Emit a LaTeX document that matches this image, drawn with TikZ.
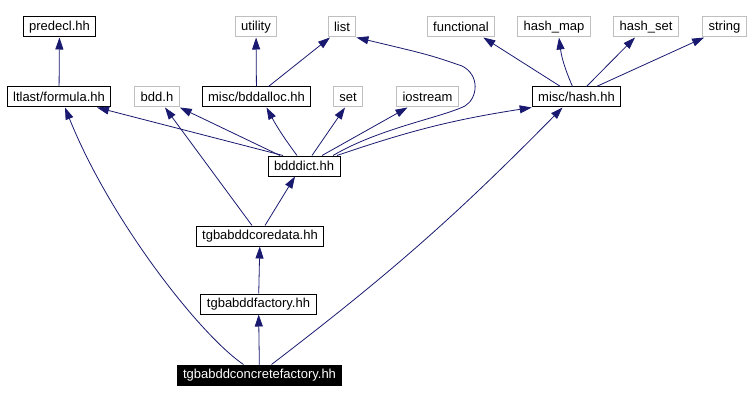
\documentclass[tikz,border=0pt]{standalone}
\usepackage{fontspec}
\setmainfont{Liberation Sans}
\usetikzlibrary{arrows.meta}
\definecolor{edgeblue}{RGB}{25,25,112}
\definecolor{sysgray}{RGB}{191,191,191}

\begin{document}
\begin{tikzpicture}[x=1pt,y=-1pt,
  hdr/.style={draw=black,line width=1pt,minimum height=20pt,inner xsep=6pt,inner ysep=0pt,font=\fontsize{13}{15}\selectfont},
  syshdr/.style={hdr,draw=sysgray},
  curhdr/.style={hdr,fill=black,text=white,draw=black},
  dep/.style={draw=edgeblue,line width=0.8pt,-{Triangle[length=12pt,width=8pt]}}]
\useasboundingbox (0,0) rectangle (752,401);
\node[hdr] (predecl) at (59.5,27) {predecl.hh};
\node[syshdr] (utility) at (256,27) {utility};
\node[syshdr] (list) at (342,27) {list};
\node[syshdr] (functional) at (461,27) {functional};
\node[syshdr] (hashmap) at (554,27) {hash\_map};
\node[syshdr] (hashset) at (646,27) {hash\_set};
\node[syshdr] (string) at (724.5,27) {string};
\node[hdr] (formula) at (59,97) {ltlast/formula.hh};
\node[syshdr] (bddh) at (157,97) {bdd.h};
\node[hdr] (bddalloc) at (256.5,97) {misc/bddalloc.hh};
\node[syshdr] (set) at (348,97) {set};
\node[syshdr] (iostream) at (427.5,97) {iostream};
\node[hdr] (hash) at (576.5,97) {misc/hash.hh};
\node[hdr] (bdddict) at (304,166) {bdddict.hh};
\node[hdr] (coredata) at (260,236) {tgbabddcoredata.hh};
\node[hdr] (factory) at (258.5,304) {tgbabddfactory.hh};
\node[curhdr] (concrete) at (259.5,375) {tgbabddconcretefactory.hh};

\draw[dep] (formula) -- (predecl);
\draw[dep] (bddalloc) -- (utility);
\draw[dep] ([xshift=12pt]bddalloc.north) -- ([xshift=-12pt]list.south);
\draw[dep] ([xshift=-16pt]hash.north) -- ([xshift=-12pt]functional.south east);
\draw[dep] ([xshift=-4pt]hash.north) to[bend left=8] ([xshift=5pt]hashmap.south);
\draw[dep] ([xshift=10pt]hash.north) -- ([xshift=-11pt]hashset.south);
\draw[dep] ([xshift=20pt]hash.north) -- ([xshift=2pt]string.south west);

\draw[dep] ([xshift=-21pt]bdddict.north) -- ([xshift=38pt]formula.south);
\draw[dep] ([xshift=-24pt]bdddict.north) -- (bddh.south east);
\draw[dep] ([xshift=-7pt]bdddict.north) to[bend left=4] ([xshift=10pt]bddalloc.south);
\draw[dep] ([xshift=8pt]bdddict.north) -- ([xshift=-3pt]set.south);
\draw[dep] ([xshift=18pt]bdddict.north) -- ([xshift=-20pt]iostream.south);
\draw[dep] ([xshift=29pt]bdddict.north) .. controls (380,128) and (440,118) .. (465,106)
  .. controls (478,98) and (480,75) .. (462,66) .. controls (430,55) .. (list.south east);
\draw[dep] ([xshift=33pt]bdddict.north) to[bend left=5] (hash.south west);

\draw[dep] ([xshift=5pt]coredata.north) -- ([xshift=-9pt]bdddict.south);
\draw[dep] ([xshift=-8pt]coredata.north) -- ([xshift=8pt]bddh.south);
\draw[dep] (factory) -- (coredata);
\draw[dep] (concrete) -- (factory);
\draw[dep] ([xshift=-16pt]concrete.north) .. controls (200,335) and (110,220) .. ([xshift=6pt]formula.south);
\draw[dep] ([xshift=12pt]concrete.north) to[bend right=4] ([xshift=-14pt]hash.south);
\end{tikzpicture}
\end{document}
